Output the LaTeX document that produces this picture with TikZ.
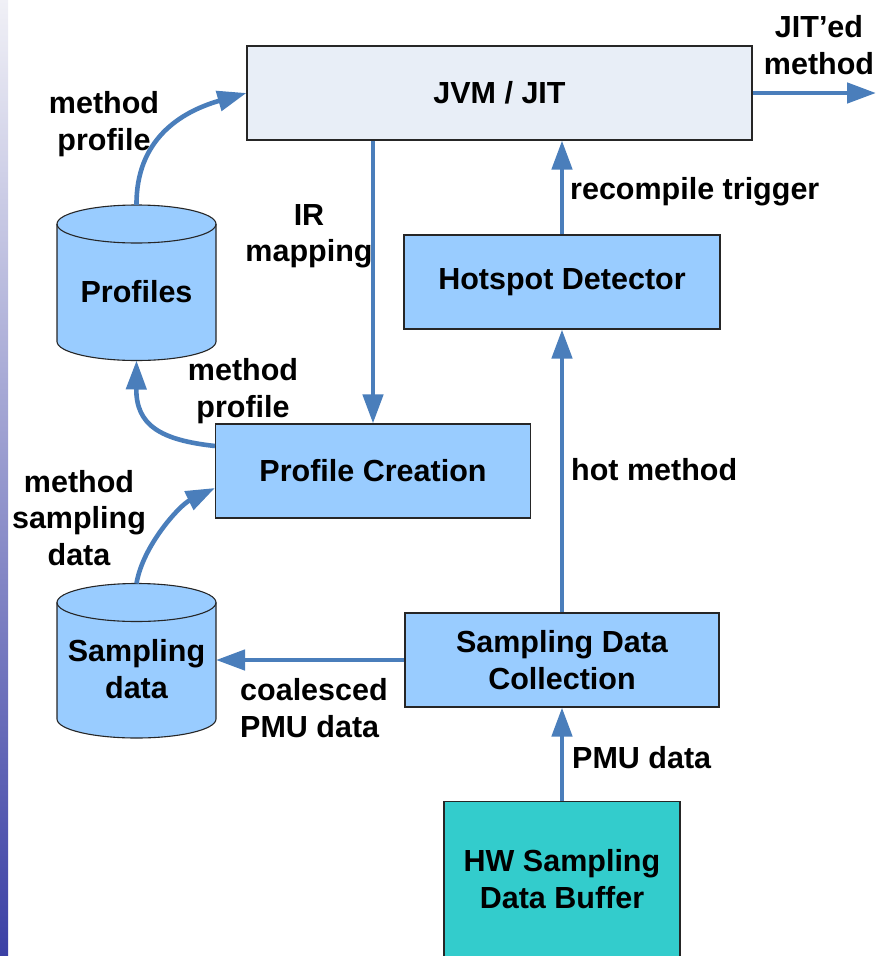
\documentclass[tikz,border=0pt]{standalone}
\usepackage{fontspec}
\setmainfont{Liberation Sans}
\usetikzlibrary{arrows.meta,calc}
\definecolor{arrowblue}{HTML}{4A7EBB}
\definecolor{boxblue}{HTML}{99CCFF}
\definecolor{jvmfill}{HTML}{E8EEF7}
\definecolor{hwteal}{HTML}{33CCCC}
\definecolor{bartop}{HTML}{F0F0F6}
\definecolor{barbot}{HTML}{3B40A5}
\begin{document}
\begin{tikzpicture}[x=1pt,y=1pt,
  box/.style={draw=black!85, line width=1.1pt, fill=boxblue, minimum width=315pt, minimum height=94pt, inner sep=0pt, font=\bfseries\fontsize{30.5}{36.5}\selectfont, align=center},
  lbl/.style={font=\bfseries\fontsize{30.5}{36.5}\selectfont, align=center, inner sep=0pt},
  flow/.style={draw=arrowblue, line width=4.6pt, -{Triangle[length=29pt,width=20pt]}},
  cyl/.style={draw=black!85, line width=1.1pt, fill=boxblue}]
\useasboundingbox (0,0) rectangle (876,-956);
\clip (0,0) rectangle (876,-956);
\shade[top color=bartop, bottom color=barbot] (0,0) rectangle (8,-956);

% boxes
\node[box, fill=jvmfill, minimum width=505pt] (JVM) at (499.5,-93) {JVM / JIT};
\node[box, minimum width=316pt] (HD) at (562,-282) {Hotspot Detector};
\node[box] (PC) at (373,-471) {Profile Creation};
\node[box, minimum width=314pt] (SDC) at (562,-660) {Sampling Data\\Collection};
\node[box, fill=hwteal, minimum width=236pt, minimum height=170pt, anchor=north] (HWbox) at (562,-801) {};
\node[lbl] (HW) at (562,-879) {HW Sampling\\Data Buffer};

% cylinders
\filldraw[cyl] (57,-224) -- (57,-341.5) arc[start angle=180,end angle=360,x radius=79.5,y radius=19] -- (216,-224) arc[start angle=0,end angle=180,x radius=79.5,y radius=19] -- cycle;
\draw[cyl, fill=none] (57,-224) arc[start angle=180,end angle=360,x radius=79.5,y radius=19];
\node[lbl] (Pr) at (136.5,-292) {Profiles};
\coordinate (Prtop) at (136.5,-205);
\coordinate (Prbot) at (136.5,-360.5);

\filldraw[cyl] (57,-602.5) -- (57,-719) arc[start angle=180,end angle=360,x radius=79.5,y radius=19] -- (216,-602.5) arc[start angle=0,end angle=180,x radius=79.5,y radius=19] -- cycle;
\draw[cyl, fill=none] (57,-602.5) arc[start angle=180,end angle=360,x radius=79.5,y radius=19];
\node[lbl] (Sd) at (136.5,-669) {Sampling\\data};
\coordinate (Sdtop) at (136.5,-583.5);
\coordinate (Sdright) at (216,-660);

% connectors
\draw[flow] (Prtop) .. controls (136,-140) and (180,-112) .. (JVM.west);
\draw[flow] ($(PC.west)+(0,25)$) .. controls (160,-440) and (136,-425) .. (Prbot);
\draw[flow] (Sdtop) .. controls (143,-545) and (180,-505) .. ($(PC.west)+(0,-17)$);
\draw[flow] (JVM.south -| PC.north) -- (PC.north);
\draw[flow] (HD.north) -- (HD.north |- JVM.south);
\draw[flow] (SDC.north) -- (HD.south);
\draw[flow] (HWbox.north) -- (SDC.south);
\draw[flow] (SDC.west) -- (Sdright);
\coordinate (out) at (876,-93);
\draw[flow] (JVM.east) -- (out);

% labels
\node[lbl] (l1) at (104,-124) {method\\profile};
\node[lbl] (l2) at (819,-45) {JIT’ed\\method};
\node[lbl] (l3) at (309,-236) {IR\\mapping};
\node[lbl, anchor=west] (l4) at (570,-192) {recompile trigger};
\node[lbl] (l5) at (243,-391) {method\\profile};
\node[lbl, anchor=west] (l6) at (571,-470) {hot method};
\node[lbl] (l7) at (79,-518) {method\\sampling\\data};
\node[lbl, align=left, anchor=west] (l8) at (240,-708) {coalesced\\PMU data};
\node[lbl, anchor=west] (l9) at (572,-758) {PMU data};
\end{tikzpicture}
\end{document}
